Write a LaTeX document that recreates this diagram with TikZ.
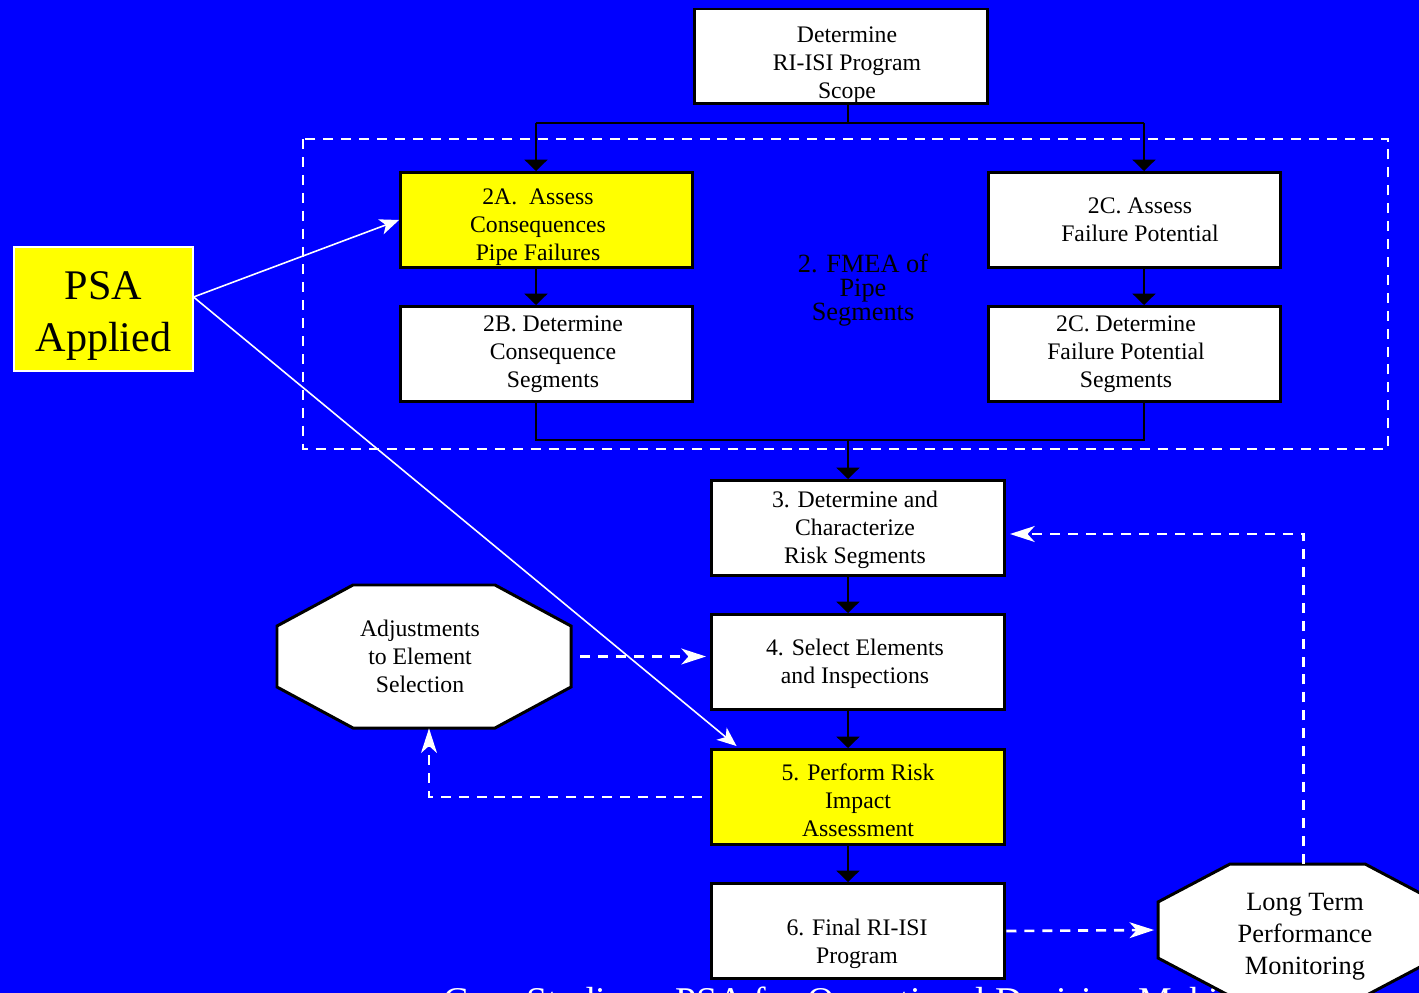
\documentclass[tikz,border=0pt]{standalone}
\usepackage{fontspec}
\setmainfont{Liberation Serif}
\usetikzlibrary{arrows.meta, calc}
\definecolor{slideblue}{RGB}{0,0,255}
\definecolor{psayellow}{RGB}{255,255,0}
\newcommand{\boxfont}{\fontsize{13.5}{15.9}\selectfont}
\tikzset{
  box/.style={draw=black, line width=1.7pt, fill=white, minimum width=5.84cm,
      minimum height=1.9cm, inner sep=0pt},
  hlbox/.style={box, fill=psayellow},
  boxtext/.style={align=center, font=\boxfont, inner sep=0pt},
  psabox/.style={draw=white, line width=0.6pt, fill=psayellow, minimum width=3.58cm,
      minimum height=2.48cm},
  octa/.style={draw=black, line width=1.7pt, fill=white},
  octarea/.style={inner sep=0pt},
  link/.style={line width=1.5pt},
  flow/.style={line width=1.5pt, -{Triangle[width=13pt, length=6.5pt]}},
  fback/.style={white, line width=1.5pt, dash pattern=on 5.7pt off 4.5pt,
      -{Stealth[length=14pt, width=9pt, inset=4pt]}},
  psaline/.style={white, line width=0.9pt, -{Stealth[length=11pt, width=9pt, inset=3pt]}},
}

\begin{document}
\begin{tikzpicture}[x=0.02cm, y=-0.02cm]
  \clip (0,0) rectangle (1419,993);
  \fill[slideblue] (0,0) rectangle (1419,993);
  % step 2 frame
  \draw[white, line width=1.5pt, dash pattern=on 5.7pt off 4.5pt] (303,139) rectangle (1388,449);
  \node[font=\fontsize{15}{13.6}\selectfont, align=center] (fmea) at (863,290) {2. FMEA of\\Pipe\\Segments};

  \node[box, minimum width=5.88cm] (scope) at (841,56.5) {};
  \node[boxtext] (scopet) at (847,65.5) {Determine\\RI-ISI Program\\Scope};
  \node[hlbox] (a2) at (546.5,220) {};
  \node[boxtext] (a2t) at (538,227) {2A.~~Assess\\Consequences\\Pipe Failures};
  \node[box] (b2) at (546.5,354) {};
  \node[boxtext] (b2t) at (553,354) {2B. Determine\\Consequence\\Segments};
  \node[box] (c2) at (1134.5,220) {};
  \node[boxtext] (c2t) at (1140,220) {2C. Assess\\Failure Potential};
  \node[box] (d2) at (1134.5,354) {};
  \node[boxtext] (d2t) at (1126,354) {2C. Determine\\Failure Potential\\Segments};
  \node[box, minimum width=5.88cm] (s3) at (858,528) {};
  \node[boxtext] (s3t) at (855,530) {3. Determine and\\Characterize\\Risk Segments};
  \node[box, minimum width=5.88cm] (s4) at (858,662) {};
  \node[boxtext] (s4t) at (855,664) {4. Select Elements\\and Inspections};
  \node[hlbox, minimum width=5.88cm] (s5) at (858,797) {};
  \node[boxtext] (s5t) at (858,800) {5. Perform Risk\\Impact\\Assessment};
  \node[box, minimum width=5.88cm] (s6) at (858,931) {};
  \node[boxtext] (s6t) at (857,944) {6. Final RI-ISI\\Program};
  \node[psabox] (psa) at (103.5,309) {};
  \node[boxtext, font=\fontsize{24}{29.5}\selectfont] (psat) at (103.5,316) {PSA\\Applied};

  \coordinate (split) at (848,123);
  \coordinate (lsplit) at (536,123);
  \coordinate (rsplit) at (1144,123);
  \coordinate (join) at (848,440);
  \coordinate (ljoin) at (536,440);
  \coordinate (rjoin) at (1144,440);
  \draw[link] (scope.south -| split) -- (split);
  \draw[link] (lsplit) -- (rsplit);
  \draw[flow] (lsplit) -- (lsplit |- a2.north);
  \draw[flow] (rsplit) -- (rsplit |- c2.north);
  \draw[flow] (a2.south -| lsplit) -- (b2.north -| lsplit);
  \draw[flow] (c2.south -| rsplit) -- (d2.north -| rsplit);
  \draw[link] (b2.south -| ljoin) -- (ljoin) -- (rjoin) -- (d2.south -| rjoin);
  \draw[flow] (join) -- (s3.north -| join);
  \draw[flow] (s3.south -| join) -- (s4.north -| join);
  \draw[flow] (s4.south -| join) -- (s5.north -| join);
  \draw[flow] (s5.south -| join) -- (s6.north -| join);

  % adjustments
  \draw[octa] (353,585) -- (495,585) -- (571,626) -- (571,687) -- (495,728)
    -- (353,728) -- (277,687) -- (277,626) -- cycle;
  \node[octarea, minimum width=5.88cm, minimum height=2.86cm] (adj) at (424,656.5) {};
  \node[boxtext] (adjt) at (420,656.5) {Adjustments\\to Element\\Selection};
  \draw[fback, shorten <=5pt, shorten >=2pt] (adj.east) -- (adj.east -| s4.west);
  \draw[fback, shorten <=4.5pt] (s5.west) -| ($(adj.south)+(5,0)$);

  % PSA links
  \coordinate (psaout) at ($(psa.east)+(0,-12)$);
  \draw[psaline] (psaout) -- (a2.west);
  \draw[psaline] (psaout) -- ($(s5.north west)+(27,-2)$);

  \node[white, anchor=base west, inner sep=0pt, font=\fontsize{21.5}{26}\selectfont] (footer)
    at (443,1013) {Case Studies -- PSA for Operational Decision Making};

  % monitoring
  \draw[octa] (1230,864) -- (1365,864) -- (1437,902) -- (1437,958) -- (1365,996)
    -- (1230,996) -- (1158,958) -- (1158,902) -- cycle;
  \node[octarea, minimum width=5.58cm, minimum height=2.64cm] (lt) at (1297.5,930) {};
  \node[boxtext, font=\fontsize{15}{18.1}\selectfont] (ltt) at (1305,937) {Long Term\\Performance\\Monitoring};
  \draw[fback, shorten >=2pt] (s6.east) -- (lt.west);
  \draw[fback, shorten >=2pt] ($(lt.north)+(6,0)$) |- ($(s3.east)+(0,6)$);
\end{tikzpicture}
\end{document}
